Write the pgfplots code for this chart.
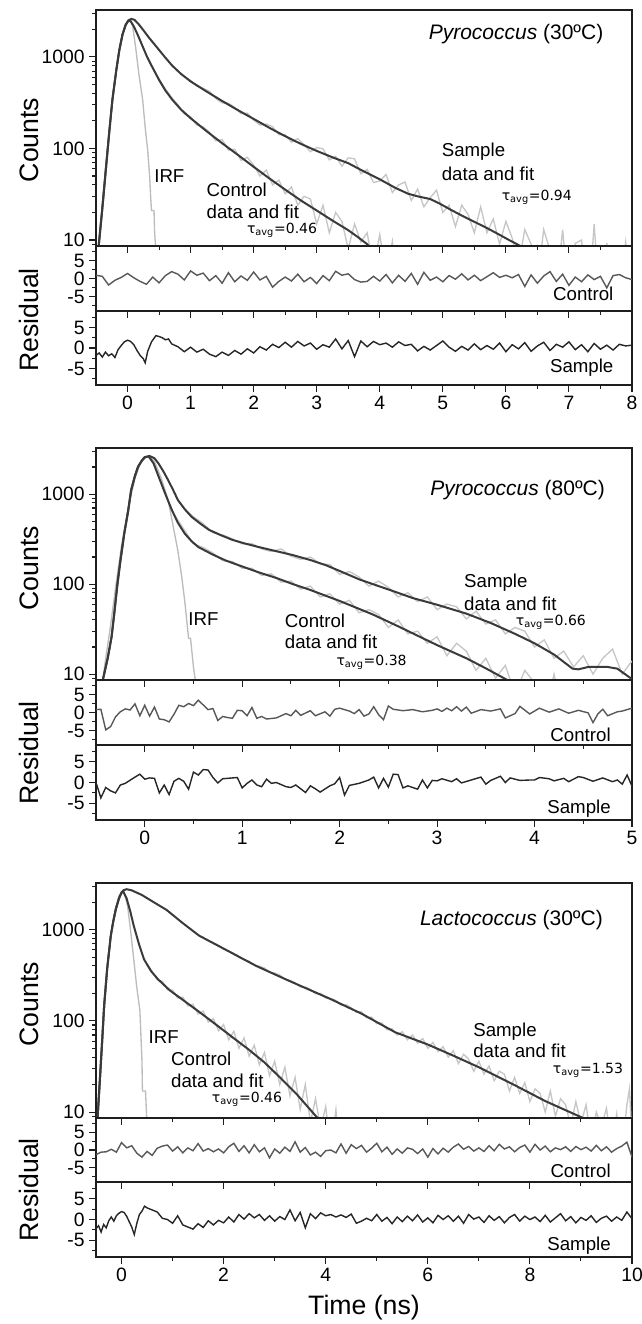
\documentclass[border=0pt]{standalone}
\usepackage{pgfplots}
\pgfplotsset{compat=1.18}
\usepackage{fontspec}
\setmainfont{Liberation Sans}
\newfontfamily\dejavu{DejaVu Sans}
\definecolor{fitc}{HTML}{3A3A3A}
\definecolor{datc}{HTML}{C6C6C6}
\definecolor{irfc}{HTML}{BCBCBC}
\definecolor{resc}{HTML}{585858}
\definecolor{ress}{HTML}{262626}
\definecolor{frm}{HTML}{1E1E1E}
\newcommand{\annf}{\fontsize{14}{16}\selectfont}
\newcommand{\tauf}{\dejavu\fontsize{10.5}{12}\selectfont}
\newcommand{\titf}{\fontsize{15.75}{18}\selectfont}
\newcommand{\labf}{\fontsize{20}{22}\selectfont}
\pgfplotsset{
  tcspcbase/.style={
    scale only axis, width=402pt, xmin=-0.5, anchor=north west,
    axis line style={frm, line width=1.2pt},
    tick style={frm, line width=0.8pt},
    tick align=outside, xtick pos=bottom, ytick pos=left,
    major tick length=5pt, minor tick length=3pt,
    tick label style={font=\fontsize{14.5}{16}\selectfont},
    /pgf/number format/assume math mode=true,
    minor x tick num=1,
  },
  tcspcres/.style={tcspcbase, ymin=-9, ymax=9, ytick={-5,0,5}, yticklabels={-5,0,5},
    minor ytick={-7.5,-2.5,2.5,7.5}},
  irf/.style={color=irfc, line width=1pt, no marks},
  dat/.style={color=datc, line width=1pt, no marks},
  fit/.style={color=fitc, line width=1.5pt, no marks},
  resC/.style={color=resc, line width=1.05pt, no marks},
  resS/.style={color=ress, line width=1.05pt, no marks},
}
\begin{document}
\begin{tikzpicture}
\path[use as bounding box] (0pt,0pt) rectangle (481.5pt,-993pt);

% ================= Panel 1 =================
\begin{axis}[tcspcbase, ymode=log, ymin=8.6, ymax=3250,
    ytick={10,100,1000}, yticklabels={10,100,1000},
    minor ytick={9,20,30,40,50,60,70,80,90,200,300,400,500,600,700,800,900,2000,3000},
    xticklabels={}, at={(72pt,-7.5pt)}, height=177pt, xmax=8, xtick={0,1,...,8}]
\addplot[irf] coordinates {(-0.47,7)(-0.41,20)(-0.35,60)(-0.29,160)(-0.23,380)(-0.17,800)(-0.11,1400)(-0.05,2100)(0.0,2450)(0.04,2500)(0.08,2200)(0.13,1250)(0.18,650)(0.24,340)(0.28,170)(0.32,95)(0.35,50)(0.37,27)(0.38,21)(0.42,21)(0.43,12)(0.46,6)};
\addplot[dat] coordinates {(0.3,1030)(0.4,760)(0.5,575)(0.6,445)(0.7,360)(0.8,300)(0.9,238)(1.0,222)(1.1,180)(1.2,172)(1.3,150)(1.4,121)(1.5,125)(1.6,96)(1.7,98)(1.8,74)(1.9,80)(2.0,66)(2.1,50)(2.2,58)(2.3,40)(2.4,45)(2.5,32)(2.6,38)(2.7,24)(2.8,30)(2.9,28)(3.0,15)(3.1,24)(3.2,12)(3.3,20)(3.4,16)(3.5,8)(3.6,15)(3.7,9.5)(3.8,12)(3.9,5)(4.0,11.5)(4.1,4)(4.2,9.6)(4.3,2)(4.4,3)};
\addplot[dat] coordinates {(0.9,610)(1.0,551)(1.1,480)(1.2,453)(1.3,420)(1.4,351)(1.5,314)(1.6,312)(1.7,279)(1.8,240)(1.9,243)(2.0,204)(2.1,180)(2.2,185)(2.3,173)(2.4,141)(2.5,141)(2.6,117)(2.7,128)(2.8,110)(2.9,92)(3.0,102)(3.1,99)(3.2,75)(3.3,82)(3.4,64)(3.5,79)(3.6,77)(3.7,53)(3.8,59)(3.9,42.5)(4.0,44)(4.1,52)(4.2,33)(4.3,40)(4.4,43)(4.5,27)(4.6,36)(4.7,23)(4.8,29)(4.9,35)(5.0,20)(5.1,24)(5.2,14)(5.3,24)(5.4,19)(5.5,12)(5.6,23)(5.7,12)(5.8,17)(5.9,9)(6.0,16)(6.1,10.5)(6.2,5.3)(6.3,13)(6.4,9)(6.5,3.5)(6.6,13)(6.7,7.7)(6.8,2.7)(6.9,13)(7.0,2.3)(7.1,9.2)(7.2,10)(7.3,1.5)(7.4,15)(7.5,1.5)(7.6,9.3)(7.7,2)(7.8,2.5)(7.9,9.5)(8.0,2)};
\addplot[fit] coordinates {(-0.47,7)(-0.40,22)(-0.34,63)(-0.29,150)(-0.24,340)(-0.18,700)(-0.13,1190)(-0.08,1750)(-0.03,2220)(0.01,2480)(0.05,2450)(0.1,2150)(0.16,1750)(0.24,1300)(0.31,1000)(0.39,780)(0.5,560)(0.6,430)(0.71,340)(0.85,265)(1.0,214)(1.25,155)(1.5,114)(1.75,85)(2.0,63)(2.25,47)(2.5,35.5)(2.75,27)(3.0,21)(3.25,16.3)(3.5,12.8)(3.65,10.8)(3.8,9)(3.9,7.5)};
\addplot[fit] coordinates {(-0.47,7)(-0.40,22)(-0.34,63)(-0.29,150)(-0.24,340)(-0.18,700)(-0.13,1190)(-0.08,1750)(-0.03,2240)(0.02,2520)(0.06,2600)(0.11,2540)(0.18,2260)(0.26,1920)(0.34,1620)(0.42,1390)(0.5,1190)(0.6,980)(0.71,800)(0.85,650)(1.0,540)(1.25,420)(1.5,330)(1.75,262)(2.0,210)(2.25,168)(2.5,136)(2.75,112)(3.0,94)(3.25,80)(3.5,69)(3.75,56)(4.0,46)(4.25,37)(4.45,32)(4.6,30)(4.8,28)(4.95,25)(5.12,21.5)(5.3,18.5)(5.5,15.8)(5.7,13.5)(5.86,11.8)(6.05,10)(6.23,8.6)(6.35,7.5)};
\node[anchor=east, font=\titf] at (axis cs:7.62,1780) {\textit{Pyrococcus} (30ºC)};
\node[anchor=west, font=\annf] at (axis cs:0.35,50) {IRF};
\node[anchor=west, font=\annf] at (axis cs:1.18,35) {Control};
\node[anchor=west, font=\annf] at (axis cs:1.18,20.5) {data and fit};
\node[anchor=west, font=\tauf] at (axis cs:1.82,12.8) {τ\textsubscript{avg}=0.46};
\node[anchor=west, font=\annf] at (axis cs:4.91,92) {Sample};
\node[anchor=west, font=\annf] at (axis cs:4.91,53) {data and fit};
\node[anchor=west, font=\tauf] at (axis cs:5.86,29.5) {τ\textsubscript{avg}=0.94};
\end{axis}
\begin{axis}[tcspcres, xticklabels={}, at={(72pt,-184.5pt)}, height=48.75pt, xmax=8, xtick={0,1,...,8}]
\addplot[resC] coordinates {(-0.5,0.9)(-0.4,0.6)(-0.3,-1.8)(-0.2,-0.5)(-0.1,0.3)(0,1.4)(0.1,0.2)(0.2,-0.8)(0.3,-1.6)(0.4,0.4)(0.5,-1.2)(0.6,0.8)(0.7,1.9)(0.8,1.2)(0.9,-0.4)(1,2.1)(1.1,0.9)(1.2,1.5)(1.3,-0.6)(1.4,0.8)(1.5,-1.3)(1.6,1.6)(1.7,-0.9)(1.8,0.7)(1.9,-0.5)(2,1.8)(2.1,-0.4)(2.2,0.6)(2.3,-2.4)(2.4,-0.8)(2.5,0.4)(2.6,-0.7)(2.7,1.2)(2.8,-0.9)(2.9,0.3)(3,-1.4)(3.1,0.8)(3.2,-0.6)(3.3,2.0)(3.4,0.9)(3.5,1.3)(3.6,-0.3)(3.7,-1.0)(3.8,-0.8)(3.9,0.6)(4,-0.7)(4.1,1.1)(4.2,-1.2)(4.3,0.9)(4.4,-0.8)(4.5,1.4)(4.6,-1.6)(4.7,1.7)(4.8,-0.5)(4.9,0.4)(5,-0.9)(5.1,0.8)(5.2,-0.2)(5.3,1.3)(5.4,-0.4)(5.5,0.9)(5.6,-0.6)(5.7,0.5)(5.8,1.6)(5.9,0.3)(6,0.9)(6.1,0.2)(6.2,1.1)(6.3,-2.2)(6.4,1.0)(6.5,-1.3)(6.6,0.7)(6.7,1.9)(6.8,-0.8)(6.9,1.2)(7,-1.9)(7.1,0.4)(7.2,-0.9)(7.3,1.0)(7.4,-0.3)(7.5,0.6)(7.6,-2.6)(7.7,0.8)(7.8,1.1)(7.9,0.2)(8,-0.3)};
\node[anchor=east, font=\annf] at (rel axis cs:0.974,0.26) {Control};
\end{axis}
\begin{axis}[tcspcres, at={(72pt,-233.25pt)}, height=55.5pt, xmax=8, xtick={0,1,...,8}]
\addplot[resS] coordinates {(-0.5,-1.8)(-0.45,-1.2)(-0.4,-2.2)(-0.35,-1.0)(-0.3,-1.9)(-0.25,-1.4)(-0.2,-2.3)(-0.15,-0.4)(-0.1,0.6)(-0.05,1.5)(0.0,1.9)(0.05,1.6)(0.1,0.8)(0.15,-0.6)(0.2,-1.8)(0.25,-2.6)(0.28,-3.6)(0.32,-0.8)(0.38,1.5)(0.45,3.0)(0.5,2.8)(0.55,2.5)(0.6,2.0)(0.65,2.2)(0.7,1.0)(0.8,0.3)(0.9,-0.9)(1.0,0.2)(1.1,-1.0)(1.2,-0.3)(1.3,-1.5)(1.4,-2.1)(1.5,-1.0)(1.6,-1.8)(1.7,-0.6)(1.8,-1.5)(1.9,-0.2)(2.0,-1.2)(2.1,0.3)(2.2,-0.5)(2.3,0.9)(2.4,0.1)(2.5,1.4)(2.6,0.2)(2.7,1.6)(2.8,0.5)(2.9,1.2)(3.0,-0.3)(3.1,0.8)(3.2,0.2)(3.3,2.2)(3.4,-0.2)(3.5,1.8)(3.6,-2.1)(3.7,1.7)(3.8,0.3)(3.9,1.6)(4.0,0.8)(4.1,1.2)(4.2,0.2)(4.3,1.5)(4.4,0.6)(4.5,0.9)(4.6,-0.7)(4.7,0.4)(4.8,-0.5)(4.9,0.6)(5.0,1.7)(5.1,0.2)(5.2,-0.8)(5.3,0.4)(5.4,-0.5)(5.5,1.0)(5.6,-0.4)(5.7,0.6)(5.8,-0.3)(5.9,1.2)(6.0,-0.9)(6.1,0.8)(6.2,-0.2)(6.3,1.3)(6.4,-0.8)(6.5,0.5)(6.6,1.4)(6.7,-0.6)(6.8,0.9)(6.9,0.2)(7.0,1.5)(7.1,-0.4)(7.2,0.8)(7.3,-0.9)(7.4,1.1)(7.5,-0.3)(7.6,0.7)(7.7,-0.5)(7.8,0.9)(7.9,0.5)(8.0,0.7)};
\node[anchor=east, font=\annf] at (rel axis cs:0.974,0.23) {Sample};
\end{axis}

% ================= Panel 2 =================
\begin{axis}[tcspcbase, ymode=log, ymin=8.6, ymax=3250,
    ytick={10,100,1000}, yticklabels={10,100,1000},
    minor ytick={9,20,30,40,50,60,70,80,90,200,300,400,500,600,700,800,900,2000,3000},
    xticklabels={}, at={(72pt,-336pt)}, height=174pt, xmax=5, xtick={0,1,...,5}]
\addplot[irf] coordinates {(-0.45,6)(-0.4,15)(-0.35,35)(-0.3,90)(-0.24,260)(-0.17,700)(-0.1,1500)(-0.04,2250)(0.02,2600)(0.05,2600)(0.1,2300)(0.17,1500)(0.24,860)(0.29,450)(0.34,235)(0.38,120)(0.41,66)(0.45,25)(0.47,25)(0.5,12)(0.53,7)};
\addplot[dat] coordinates {(0.3,600)(0.4,410)(0.5,280)(0.6,255)(0.7,222)(0.8,182)(0.9,178)(1.0,150)(1.1,150)(1.2,125)(1.3,130)(1.4,105)(1.5,108)(1.6,88)(1.7,95)(1.8,72)(1.9,78)(2.0,60)(2.1,66)(2.2,48)(2.3,52)(2.4,46)(2.5,33)(2.6,40)(2.7,28)(2.8,30)(2.9,22)(3.0,26)(3.1,16)(3.2,22)(3.3,18)(3.4,11)(3.5,15)(3.6,9)(3.7,12.5)(3.8,6)(3.9,11)(4.0,8)(4.1,3)(4.2,10)(4.3,3)};
\addplot[dat] coordinates {(0.4,700)(0.5,560)(0.6,470)(0.7,372)(0.8,352)(0.9,318)(1.0,280)(1.1,282)(1.2,246)(1.3,230)(1.4,246)(1.5,205)(1.6,188)(1.7,200)(1.8,168)(1.9,165)(2.0,128)(2.1,138)(2.2,120)(2.3,95)(2.4,108)(2.5,92)(2.6,72)(2.7,80)(2.8,64)(2.9,72)(3.0,52)(3.1,60)(3.2,56)(3.3,41)(3.4,50)(3.5,36)(3.6,40)(3.7,28)(3.8,33)(3.9,30)(4.0,20)(4.1,24)(4.2,15)(4.3,18)(4.4,12)(4.5,16)(4.6,10)(4.7,15)(4.8,19)(4.9,10)(5.0,14)};
\addplot[fit] coordinates {(-0.45,6)(-0.43,8.6)(-0.38,15)(-0.34,26)(-0.31,50)(-0.28,100)(-0.25,180)(-0.21,365)(-0.17,650)(-0.14,1100)(-0.1,1600)(-0.07,2000)(-0.03,2350)(0,2570)(0.04,2620)(0.09,2200)(0.13,1700)(0.17,1310)(0.22,950)(0.28,660)(0.34,480)(0.41,365)(0.48,300)(0.55,258)(0.69,215)(0.83,183)(1.0,157)(1.17,135)(1.35,117)(1.52,100)(1.7,86)(1.86,74)(2.0,65)(2.34,46)(2.6,34)(3.0,21)(3.3,15)(3.5,11.6)(3.72,8.6)(3.8,7.8)};
\addplot[fit] coordinates {(-0.45,6)(-0.43,8.6)(-0.38,15)(-0.34,26)(-0.31,50)(-0.28,100)(-0.25,180)(-0.21,365)(-0.17,650)(-0.14,1100)(-0.1,1600)(-0.07,2000)(-0.03,2350)(0,2570)(0.05,2650)(0.1,2500)(0.14,2200)(0.19,1800)(0.24,1430)(0.29,1120)(0.34,860)(0.41,680)(0.48,560)(0.57,470)(0.66,400)(0.78,350)(0.9,310)(1.03,282)(1.17,258)(1.35,232)(1.52,210)(1.7,185)(1.86,162)(2.0,140)(2.2,113)(2.34,100)(2.53,85)(2.75,70)(3.0,59)(3.3,47)(3.55,37)(3.8,28)(4.0,22)(4.2,16.5)(4.39,11.5)(4.45,11.3)(4.55,12)(4.75,12)(4.85,11.5)(5.0,8.8)};
\node[anchor=east, font=\titf] at (axis cs:4.77,1110) {\textit{Pyrococcus} (80ºC)};
\node[anchor=west, font=\annf] at (axis cs:0.40,41) {IRF};
\node[anchor=west, font=\annf] at (axis cs:1.39,39) {Control};
\node[anchor=west, font=\annf] at (axis cs:1.39,23) {data and fit};
\node[anchor=west, font=\tauf] at (axis cs:1.92,13.4) {τ\textsubscript{avg}=0.38};
\node[anchor=west, font=\annf] at (axis cs:3.23,105) {Sample};
\node[anchor=west, font=\annf] at (axis cs:3.23,60) {data and fit};
\node[anchor=west, font=\tauf] at (axis cs:3.76,37.5) {τ\textsubscript{avg}=0.66};
\end{axis}
\begin{axis}[tcspcres, xticklabels={}, at={(72pt,-510pt)}, height=48.75pt, xmax=5, xtick={0,1,...,5}]
\addplot[resC] coordinates {(-0.5,0.8)(-0.45,0.9)(-0.4,-4.8)(-0.35,-3.9)(-0.3,-1.2)(-0.25,0.2)(-0.2,1.0)(-0.15,0.7)(-0.1,2.4)(-0.05,-0.9)(0.0,2.0)(0.05,-1.0)(0.1,1.5)(0.15,-1.8)(0.2,-2.0)(0.25,-2.6)(0.3,-0.5)(0.35,2.0)(0.4,1.6)(0.45,2.5)(0.5,1.9)(0.55,3.4)(0.6,2.1)(0.65,0.8)(0.7,1.1)(0.75,-2.2)(0.8,-1.1)(0.85,-1.4)(0.9,-1.6)(0.95,0.6)(1.0,0.5)(1.05,-0.9)(1.1,1.4)(1.15,-1.6)(1.2,-1.1)(1.25,-1.8)(1.35,-1.5)(1.45,-0.3)(1.5,-0.9)(1.55,0.6)(1.6,-0.8)(1.7,0.5)(1.75,-0.9)(1.85,0.2)(1.9,-1.0)(1.95,0.9)(2.0,1.2)(2.1,0.4)(2.15,-0.3)(2.2,0.8)(2.25,-1.0)(2.3,-0.4)(2.35,1.6)(2.4,-0.6)(2.45,-2.0)(2.5,1.8)(2.55,0.9)(2.65,0.5)(2.75,0.8)(2.85,0.2)(2.95,0.6)(3.0,1.0)(3.05,0.3)(3.1,1.2)(3.15,0.5)(3.2,1.6)(3.25,0.4)(3.3,1.5)(3.35,-0.2)(3.45,0.8)(3.55,0.4)(3.65,1.0)(3.7,-1.5)(3.8,-0.3)(3.85,1.7)(3.95,-0.4)(4.05,1.2)(4.15,0.1)(4.25,1.0)(4.35,-0.2)(4.45,0.6)(4.55,-0.1)(4.6,-2.8)(4.65,-0.4)(4.7,0.9)(4.75,-0.9)(4.85,0.2)(4.9,0.4)(5.0,1.2)};
\node[anchor=east, font=\annf] at (rel axis cs:0.969,0.15) {Control};
\end{axis}
\begin{axis}[tcspcres, at={(72pt,-558.75pt)}, height=56.25pt, xmax=5, xtick={0,1,...,5}]
\addplot[resS] coordinates {(-0.5,0)(-0.45,-3.7)(-0.4,-1.2)(-0.35,-2.0)(-0.3,-2.5)(-0.25,-0.6)(-0.2,-0.2)(-0.1,1.3)(-0.05,2.0)(0.0,0.8)(0.05,1.1)(0.1,1.0)(0.15,-2.5)(0.2,-0.6)(0.25,-2.9)(0.3,0.3)(0.35,1.0)(0.4,0.3)(0.45,-1.6)(0.5,2.5)(0.55,1.8)(0.6,3.1)(0.65,3.0)(0.7,1.2)(0.75,-0.1)(0.8,0.9)(0.9,1.1)(0.95,1.2)(1.0,-1.3)(1.05,-0.2)(1.1,0.6)(1.15,-0.6)(1.2,-1.0)(1.25,0.8)(1.3,-0.2)(1.35,0.0)(1.45,-1.0)(1.5,-1.2)(1.55,-0.6)(1.65,-2.4)(1.7,-0.8)(1.75,-1.5)(1.8,-2.3)(1.9,-0.8)(1.95,-0.3)(2.0,1.2)(2.05,-3.0)(2.1,-0.7)(2.2,-0.2)(2.3,0.6)(2.35,1.3)(2.4,-1.3)(2.45,1.0)(2.5,-1.1)(2.55,2.0)(2.6,1.9)(2.65,-1.3)(2.7,-0.8)(2.8,-1.6)(2.85,0.6)(2.9,-1.3)(2.95,0.5)(3.0,0.4)(3.05,0.9)(3.15,0.2)(3.2,0.9)(3.25,-0.1)(3.35,0.6)(3.45,1.3)(3.5,-0.4)(3.55,0.5)(3.65,1.5)(3.7,0.0)(3.75,1.1)(3.85,0.5)(3.95,0.6)(4.0,0.6)(4.05,1.2)(4.15,0.9)(4.2,0.4)(4.3,1.0)(4.35,0.2)(4.45,1.4)(4.5,1.2)(4.6,0.3)(4.7,1.1)(4.8,0.2)(4.85,0.6)(4.9,-0.4)(4.95,1.8)(5.0,-0.9)};
\node[anchor=east, font=\annf] at (rel axis cs:0.969,0.15) {Sample};
\end{axis}

% ================= Panel 3 =================
\begin{axis}[tcspcbase, ymode=log, ymin=8.6, ymax=3250,
    ytick={10,100,1000}, yticklabels={10,100,1000},
    minor ytick={9,20,30,40,50,60,70,80,90,200,300,400,500,600,700,800,900,2000,3000},
    xticklabels={}, at={(72pt,-662.25pt)}, height=176.25pt, xmax=10, xtick={0,2,...,10}]
\addplot[irf] coordinates {(-0.5,5)(-0.46,8.6)(-0.4,30)(-0.34,120)(-0.27,420)(-0.2,950)(-0.12,1700)(-0.05,2350)(0.02,2650)(0.06,2500)(0.12,1800)(0.18,950)(0.24,470)(0.3,230)(0.36,130)(0.4,37)(0.41,17)(0.47,17)(0.5,7)};
\addplot[dat] coordinates {(0.5,420)(0.6,350)(0.7,281)(0.8,271)(0.9,219)(1.0,218)(1.1,178)(1.2,182)(1.3,146)(1.4,152)(1.5,119)(1.6,128)(1.7,97)(1.8,106)(1.9,78)(2.0,91)(2.1,62)(2.2,77)(2.3,50)(2.4,65)(2.5,41)(2.6,54)(2.7,33)(2.8,45)(2.9,25)(3.0,36)(3.1,20)(3.2,31)(3.3,15)(3.4,24)(3.5,10.7)(3.6,20)(3.7,7.6)(3.8,14)(3.9,6.6)(4.0,11.5)(4.1,3.7)(4.2,10.6)(4.3,2.3)};
\addplot[dat] coordinates {(1.5,870)(1.6,822)(1.7,752)(1.8,718)(1.9,672)(2.0,610)(2.1,585)(2.2,548)(2.3,500)(2.4,468)(2.5,452)(2.6,408)(2.7,398)(2.8,380)(2.9,342)(3.0,335)(3.1,318)(3.2,286)(3.3,278)(3.4,262)(3.5,236)(3.6,235)(3.7,222)(3.8,198)(3.9,200)(4.0,178)(4.1,176)(4.2,168)(4.3,148)(4.4,150)(4.5,139)(4.6,124)(4.7,126)(4.8,108)(4.9,110)(5.0,93)(5.1,95)(5.2,80)(5.3,82)(5.4,70)(5.5,76)(5.6,62)(5.7,70)(5.8,57)(5.9,64)(6.0,50)(6.1,58)(6.2,46)(6.3,52)(6.4,40)(6.5,47)(6.6,34)(6.7,43)(6.8,38)(6.9,28)(7.0,36)(7.1,26)(7.2,32)(7.3,22)(7.4,28)(7.5,26)(7.6,17)(7.7,24)(7.8,16)(7.9,21)(8.0,13)(8.1,18)(8.2,16)(8.3,10)(8.4,17)(8.5,9)(8.6,14)(8.7,12)(8.8,7)(8.9,13)(9.0,7.5)(9.1,12)(9.2,5)(9.3,10)(9.4,7)(9.5,11)(9.6,4)(9.7,9.5)(9.8,3.5)(9.9,12)(9.95,18)(10.0,5)};
\addplot[fit] coordinates {(-0.5,5)(-0.47,8.6)(-0.42,25)(-0.38,60)(-0.34,150)(-0.28,380)(-0.21,860)(-0.16,1250)(-0.11,1690)(-0.05,2200)(0.0,2550)(0.03,2650)(0.1,2200)(0.17,1600)(0.24,1100)(0.34,700)(0.44,474)(0.58,350)(0.72,284)(0.95,215)(1.2,170)(1.5,128)(1.84,92)(2.16,67)(2.48,49)(2.8,35)(3.12,23.5)(3.44,15.5)(3.84,8.6)(3.95,7.4)};
\addplot[fit] coordinates {(-0.5,5)(-0.47,8.6)(-0.42,25)(-0.38,60)(-0.34,150)(-0.28,380)(-0.21,860)(-0.16,1250)(-0.11,1690)(-0.05,2200)(0.0,2550)(0.05,2720)(0.1,2780)(0.2,2700)(0.4,2400)(0.6,2050)(0.88,1650)(1.2,1180)(1.52,860)(2.0,620)(2.64,400)(3.3,272)(4.08,175)(4.7,120)(5.36,75)(6.0,55)(6.48,42)(7.0,31)(7.68,20)(8.3,13.2)(9.04,8.6)(9.2,7.5)};
\node[anchor=east, font=\titf] at (axis cs:9.52,1290) {\textit{Lactococcus} (30ºC)};
\node[anchor=west, font=\annf] at (axis cs:0.44,67) {IRF};
\node[anchor=west, font=\annf] at (axis cs:0.88,38) {Control};
\node[anchor=west, font=\annf] at (axis cs:0.88,22) {data and fit};
\node[anchor=west, font=\tauf] at (axis cs:1.68,13.7) {τ\textsubscript{avg}=0.46};
\node[anchor=west, font=\annf] at (axis cs:6.8,77) {Sample};
\node[anchor=west, font=\annf] at (axis cs:6.8,47) {data and fit};
\node[anchor=west, font=\tauf] at (axis cs:8.36,28.6) {τ\textsubscript{avg}=1.53};
\end{axis}
\begin{axis}[tcspcres, xticklabels={}, at={(72pt,-838.5pt)}, height=48pt, xmax=10, xtick={0,2,...,10}]
\addplot[resC] coordinates {(-0.5,-1.3)(-0.4,-0.6)(-0.3,-0.5)(-0.2,0.2)(-0.1,-0.6)(0.0,2.1)(0.1,0.6)(0.2,1.2)(0.3,-0.9)(0.4,-2.0)(0.5,-0.4)(0.6,-1.5)(0.7,0.5)(0.8,1.1)(0.9,1.4)(1.0,-0.3)(1.1,0.9)(1.2,-0.8)(1.3,0.6)(1.4,-0.2)(1.5,1.8)(1.6,-0.3)(1.7,0.4)(1.8,-0.5)(1.9,0.3)(2.0,-0.8)(2.1,0.9)(2.2,1.9)(2.3,-0.4)(2.4,1.2)(2.5,-0.8)(2.6,1.5)(2.7,-0.5)(2.8,0.6)(2.9,-2.2)(3.0,0.3)(3.1,-0.9)(3.2,0.8)(3.3,-0.4)(3.4,2.3)(3.5,-0.6)(3.6,0.7)(3.7,-1.4)(3.8,-0.6)(3.9,-1.8)(4.0,-0.2)(4.1,0.0)(4.2,-0.8)(4.3,1.7)(4.4,-0.9)(4.5,1.5)(4.6,0.4)(4.7,1.3)(4.8,-0.6)(4.9,0.5)(5.0,1.9)(5.1,-0.5)(5.2,0.8)(5.3,-1.2)(5.4,0.3)(5.5,-0.9)(5.6,0.6)(5.7,0.2)(5.8,-1.0)(5.9,0.3)(6.0,-2.0)(6.1,0.4)(6.2,-1.1)(6.3,0.5)(6.4,-0.6)(6.5,0.8)(6.6,1.7)(6.7,0.2)(6.8,1.0)(6.9,-0.3)(7.0,0.6)(7.1,-0.4)(7.2,1.2)(7.3,-0.2)(7.4,1.6)(7.5,0.3)(7.6,0.9)(7.7,-0.5)(7.8,0.7)(7.9,1.4)(8.0,-0.6)(8.1,1.6)(8.2,0.0)(8.3,1.1)(8.4,-0.5)(8.5,0.6)(8.6,0.1)(8.7,0.9)(8.8,-0.4)(8.9,1.0)(9.0,0.1)(9.1,0.8)(9.2,-0.3)(9.3,1.3)(9.4,-0.2)(9.5,0.9)(9.6,-0.6)(9.7,0.4)(9.8,1.1)(9.9,2.2)(10.0,-2.0)};
\node[anchor=east, font=\annf] at (rel axis cs:0.969,0.18) {Control};
\end{axis}
\begin{axis}[tcspcres, at={(72pt,-886.5pt)}, height=56.25pt, xmax=10, xtick={0,2,...,10}]
\addplot[resS] coordinates {(-0.5,-2.2)(-0.45,-1.5)(-0.4,-3.0)(-0.35,-1.2)(-0.3,-2.0)(-0.25,-0.3)(-0.2,0.6)(-0.15,-0.4)(-0.1,0.9)(-0.05,1.5)(0.0,1.9)(0.05,1.7)(0.1,0.8)(0.15,-0.5)(0.2,-1.8)(0.25,-3.6)(0.3,-0.9)(0.35,1.2)(0.4,2.0)(0.45,3.2)(0.5,2.8)(0.6,2.3)(0.7,1.8)(0.8,0.3)(0.9,0.0)(1.0,-0.9)(1.1,0.9)(1.2,-1.3)(1.3,-1.8)(1.4,-2.3)(1.5,-1.0)(1.6,-1.9)(1.7,-0.3)(1.8,-1.3)(1.9,-0.2)(2.0,-0.8)(2.1,0.6)(2.2,-0.6)(2.3,1.2)(2.4,0.1)(2.5,1.4)(2.6,0.4)(2.7,1.2)(2.8,-0.2)(2.9,0.9)(3.0,-0.4)(3.1,0.7)(3.2,0.0)(3.3,2.3)(3.4,-0.3)(3.5,1.7)(3.6,-2.0)(3.7,1.4)(3.8,0.2)(3.9,1.6)(4.0,0.9)(4.1,1.2)(4.2,0.6)(4.3,1.1)(4.4,0.5)(4.5,1.3)(4.6,-0.9)(4.7,-0.4)(4.8,0.3)(4.9,-0.3)(5.0,1.2)(5.1,-0.4)(5.2,0.5)(5.3,-1.0)(5.4,0.6)(5.5,-0.5)(5.6,0.8)(5.7,-0.3)(5.8,1.1)(5.9,-0.6)(6.0,0.4)(6.1,-0.8)(6.2,1.0)(6.3,0.0)(6.4,0.9)(6.5,-0.4)(6.6,0.8)(6.7,-0.9)(6.8,1.2)(6.9,0.1)(7.0,0.6)(7.1,-0.7)(7.2,0.9)(7.3,-0.2)(7.4,0.7)(7.5,-0.8)(7.6,0.5)(7.7,1.2)(7.8,-0.4)(7.9,0.8)(8.0,0.0)(8.1,0.6)(8.2,-0.5)(8.3,1.0)(8.4,-0.6)(8.5,0.4)(8.6,1.4)(8.7,-0.3)(8.8,0.7)(8.9,-0.8)(9.0,0.5)(9.1,-0.2)(9.2,0.9)(9.3,-0.7)(9.4,0.3)(9.5,0.8)(9.6,-0.4)(9.7,0.6)(9.8,-0.2)(9.9,1.8)(10.0,0.2)};
\node[anchor=east, font=\annf] at (rel axis cs:0.969,0.15) {Sample};
\end{axis}

% ================= Axis labels =================
\node[rotate=90, font=\labf] at (21.75pt,-105pt) {Counts};
\node[rotate=90, font=\labf] at (21.75pt,-240pt) {Residual};
\node[rotate=90, font=\labf] at (21.75pt,-426pt) {Counts};
\node[rotate=90, font=\labf] at (21.75pt,-564.75pt) {Residual};
\node[rotate=90, font=\labf] at (21.75pt,-753pt) {Counts};
\node[rotate=90, font=\labf] at (21.75pt,-892.5pt) {Residual};
\node[font=\labf] at (273pt,-981pt) {Time (ns)};
\end{tikzpicture}
\end{document}
